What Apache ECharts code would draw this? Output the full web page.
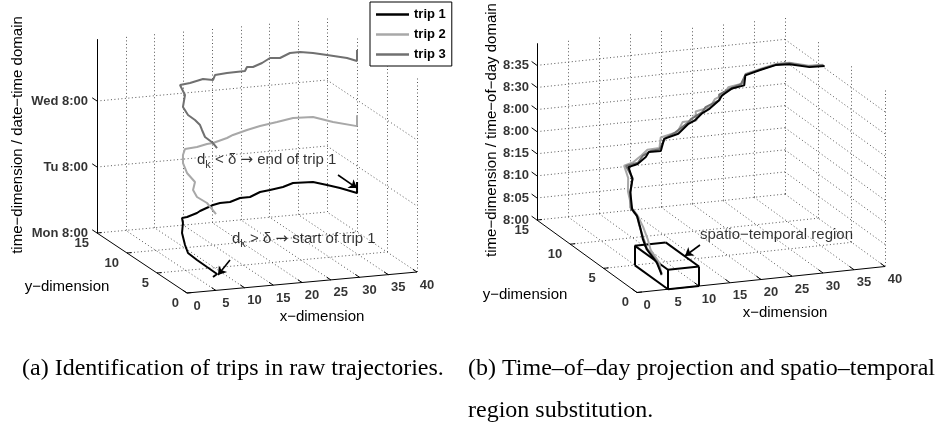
<!DOCTYPE html>
<html><head><meta charset="utf-8">
<script src="https://cdn.jsdelivr.net/npm/echarts@6/dist/echarts.min.js"></script>
<style>html,body{margin:0;padding:0;background:#fff}#c{width:938px;height:431px}</style>
</head><body><div id="c"></div>
<script>
// ---------------- data ----------------
const xTicks = [0,5,10,15,20,25,30,35,40];
const yTicks = [0,5,10,15];
const zTicksA = [0,24,48];                       // hours after Mon 8:00
const zLabelsA = ['Mon 8:00','Tu 8:00','Wed 8:00'];
const zMaxA = 70.5;
const zTicksB = [0,5,10,15,20,25,30,35];         // minutes after 8:00
const zLabelsB = ['8:00','8:05','8:10','8:15','8:00','8:00','8:30','8:35'];
const zMaxB = 40;
const tripNames = ['trip 1','trip 2','trip 3'];
const tripColors = ['#000000','#a8a8a8','#707070'];

// panel (a): raw trajectories, x, y, time (hours after Mon 8:00)
const a1X = [7.33,8.51,8.27,7.97,7.75,8.63,10.29,12.10,12.66,13.53,15.72,16.39,19.12,20.40,21.84,23.97,25.42,27.72,29.39,31.62,33.69,36.54,37.68,38.66,39.8,39.8];
const a1Y = [2.69,3.15,4.59,5.97,7.26,8.60,10.69,12.27,12.96,12.96,13.40,13.54,13.99,14.05,13.76,14.14,13.86,14.39,14.33,14.31,14.62,14.02,12.77,11.55,9.8,9.8];
const a1Z = [0.5,0.7,1.2,1.8,2.5,3.3,4.3,5.3,6.0,6.2,6.6,7.0,8.0,8.4,8.9,9.4,9.9,10.5,11.0,11.7,12.3,13.0,13.5,14.0,14.5,18.5];
const a2X = [7.10,7.81,7.28,7.96,9.78,10.18,11.23,12.56,13.80,15.72,17.56,18.46,21.24,22.53,25.38,27.72,30.73,33.53,36.31,37.72,40.0,40.0];
const a2Y = [1.97,4.15,5.31,6.62,8.04,9.76,11.43,12.71,13.56,13.40,13.50,13.35,13.69,13.93,14.32,14.39,14.45,14.46,13.80,11.81,10.0,10.0];
const a2Z = [24.5,25.2,25.8,26.3,26.8,27.5,28.5,29.3,30.0,30.6,31.2,31.6,32.4,32.9,33.6,34.5,35.3,36.2,37.0,37.8,38.5,42.5];
const a3X = [7.26,7.54,7.38,8.21,8.80,8.86,8.63,9.25,11.68,12.58,14.32,16.85,17.89,19.09,21.07,23.84,24.81,25.54,27.46,29.45,30.67,32.96,34.41,35.85,37.22,39.21,39.8,39.8];
const a3Y = [1.95,2.89,4.07,5.37,6.26,7.16,8.10,9.54,11.53,13.22,13.22,13.48,12.81,13.63,13.53,13.18,13.78,13.48,13.81,14.39,13.89,14.42,14.14,13.36,12.33,10.91,9.81,9.81];
const a3Z = [48.5,48.9,49.4,49.9,50.3,50.8,51.3,52.0,53.0,54.0,54.4,55.0,55.4,55.8,56.3,57.0,57.4,57.7,58.3,58.9,59.4,60.0,60.5,61.0,61.5,62.1,62.5,66.5];

// panel (b): time-of-day projection, x, y, time (minutes after 8:00)
const b1X = [6.70,7.32,7.17,7.28,8.12,8.38,8.19,9.53,10.66,10.73,12.00,13.84,14.56,15.86,17.80,19.92,22.45,23.21,24.72,25.99,27.82,28.54,30.31,31.75,32.58,34.27,36.24,37.51,38.75,40.0];
const b1Y = [2.53,3.84,5.19,5.88,7.10,7.77,8.34,9.86,10.59,11.25,11.07,11.55,11.76,11.17,12.48,12.33,13.15,12.95,13.29,13.25,13.58,13.79,13.92,13.44,14.04,13.50,12.92,12.00,10.15,9.05];
const b1Z = [0.3,1.5,3.0,4.5,6.0,7.5,8.5,10.5,12.5,14.5,15.2,16.0,16.8,17.5,18.5,19.5,20.5,21.3,22.3,23.3,24.5,25.3,26.5,27.5,29.0,30.5,32.0,33.0,34.2,35.5];
const b2X = [6.5,7.6,7.6,7.9,8.5,8.6,8.4,9.4,10.3,10.4,11.8,13.5,14.8,16.2,17.6,20.2,22.0,23.6,24.3,26.3,27.5,28.9,30.0,31.9,32.9,34.6,36.5,37.8,38.9,40.0];
const b2Y = [2.4,3.7,5.0,5.7,7.0,7.9,8.6,10.1,10.9,11.6,11.5,11.9,12.2,11.7,12.8,12.7,13.6,13.0,13.8,13.5,13.9,13.9,14.2,13.8,14.3,13.7,13.1,12.3,10.4,9.3];
const b2Z = [0.3,1.5,3.0,4.5,6.0,7.5,8.5,10.5,12.5,14.5,15.2,16.0,16.8,17.5,18.5,19.5,20.5,21.3,22.3,23.3,24.5,25.3,26.5,27.5,29.0,30.5,32.0,33.0,34.2,35.5];
const b3X = [6.9,7.5,7.4,7.6,8.3,8.6,8.3,9.7,10.9,10.6,12.3,13.6,15.0,16.0,18.1,19.7,22.7,23.0,25.0,25.7,28.1,28.3,30.6,31.5,32.8,34.5,36.4,37.7,38.8,40.0];
const b3Y = [2.7,4.0,5.4,6.1,7.4,8.0,8.7,10.0,10.8,11.5,11.3,11.8,11.9,11.5,12.6,12.6,13.4,13.3,13.5,13.6,13.7,14.0,14.1,13.7,14.2,13.6,13.0,12.2,10.3,9.2];
const b3Z = [0.3,1.5,3.0,4.5,6.0,7.5,8.5,10.5,12.5,14.5,15.2,16.0,16.8,17.5,18.5,19.5,20.5,21.3,22.3,23.3,24.5,25.3,26.5,27.5,29.0,30.5,32.0,33.0,34.2,35.5];

// spatio-temporal region (panel b): x range, y range, time range (min)
const regionX = [5,10];
const regionY = [0,5];
const regionZ = [0,4.4];

// ---------------- projection (oblique view of each 3-D box) ----------------
const viewA = {ox:187, oy:293, ex:[5.75,-0.525], ey:[-6,-4], ez:-2.75};
const viewB = {ox:637, oy:292.5, ex:[6.2,-0.65], ey:[-6.67,-4.83], ez:-4.42};
function proj(v,x,y,z){ return [v.ox + v.ex[0]*x + v.ey[0]*y, v.oy + v.ex[1]*x + v.ey[1]*y + v.ez*z]; }
function zip(X,Y,Z){ return X.map((x,i)=>[x,Y[i],Z[i]]); }

const FONT = 'Liberation Sans, Arial, Helvetica, sans-serif';

function panelGeometry(v, zTicks, zMax){
  const grid=[], axes=[], ticks=[];
  const P=(x,y,z)=>proj(v,x,y,z);
  const X0=xTicks[0], X1=xTicks[xTicks.length-1], Y0=yTicks[0], Y1=yTicks[yTicks.length-1];
  xTicks.slice(1).forEach(x=>{ grid.push([P(x,Y0,0),P(x,Y1,0)]); grid.push([P(x,Y1,0),P(x,Y1,zMax)]); });
  yTicks.slice(1).forEach(y=>grid.push([P(X0,y,0),P(X1,y,0)]));
  yTicks.slice(0,-1).forEach(y=>grid.push([P(X1,y,0),P(X1,y,zMax)]));
  zTicks.slice(1).forEach(z=>{ grid.push([P(X0,Y1,z),P(X1,Y1,z)]); grid.push([P(X1,Y1,z),P(X1,Y0,z)]); });
  axes.push([P(X0,Y0,0),P(X1,Y0,0)],[P(X0,Y0,0),P(X0,Y1,0)],[P(X0,Y1,0),P(X0,Y1,zMax)]);
  xTicks.forEach(x=>ticks.push([P(x,Y0,0),P(x,Y0+0.7,0)]));
  yTicks.forEach(y=>ticks.push([P(X0,y,0),P(X0+0.8,y,0)]));
  zTicks.forEach(z=>ticks.push([P(X0,Y1,z),P(X0,Y1+0.8,z)]));
  return {grid,axes,ticks};
}
function linesSeries(segs, style, zl, extra){
  return Object.assign({type:'lines', coordinateSystem:'cartesian2d', polyline:false, silent:true, z:zl,
    lineStyle:Object.assign({opacity:1, curveness:0}, style), data:segs.map(c=>({coords:c}))}, extra||{});
}
function labelSeries(items, lab){
  return {type:'scatter', symbolSize:0, silent:true, z:6,
    label:Object.assign({show:true, position:'inside', formatter:'{b}', color:'#000', fontFamily:FONT,
      textBorderWidth:0, textShadowBlur:0}, lab),
    data:items};
}
function tripSeries(v, pts, idx, zl){
  return {type:'line', name:tripNames[idx], symbol:'none', silent:true, z:zl,
    lineStyle:{color:tripColors[idx], width:2}, itemStyle:{color:tripColors[idx]},
    data:pts.map(p=>proj(v,p[0],p[1],p[2]))};
}

const series = [];
[[viewA,zTicksA,zMaxA,zLabelsA],[viewB,zTicksB,zMaxB,zLabelsB]].forEach(([v,zt,zm,zl])=>{
  const g = panelGeometry(v,zt,zm);
  series.push(linesSeries(g.grid,{color:'#555',width:1,type:[1,2.5]},1));
  series.push(linesSeries(g.axes,{color:'#000',width:1},3));
  series.push(linesSeries(g.ticks,{color:'#000',width:1},3));
  const tickFont = {fontSize:13, fontWeight:'bold'};
  series.push(labelSeries(xTicks.map(x=>({name:String(x), value:proj(v,x,yTicks[0],0)})),
    Object.assign({align:'center', verticalAlign:'middle', offset:[10,13]},tickFont)));
  series.push(labelSeries(yTicks.map(y=>({name:String(y), value:proj(v,xTicks[0],y,0)})),
    Object.assign({align:'right', verticalAlign:'middle', offset:[-8,10]},tickFont)));
  series.push(labelSeries(zt.map((z,i)=>({name:zl[i], value:proj(v,xTicks[0],yTicks[yTicks.length-1],z)})),
    Object.assign({align:'right', verticalAlign:'middle', offset:[v===viewA?-9:-8,0]},tickFont)));
});

// trajectories
series.push(tripSeries(viewA, zip(a1X,a1Y,a1Z), 0, 10));
series.push(tripSeries(viewA, zip(a2X,a2Y,a2Z), 1, 10));
series.push(tripSeries(viewA, zip(a3X,a3Y,a3Z), 2, 10));
series.push(tripSeries(viewB, zip(b2X,b2Y,b2Z), 1, 10));
series.push(tripSeries(viewB, zip(b3X,b3Y,b3Z), 2, 11));
series.push(tripSeries(viewB, zip(b1X,b1Y,b1Z), 0, 12));

// region box
(function(){
  const [x0,x1]=regionX,[y0,y1]=regionY,[z0,z1]=regionZ, P=(x,y,z)=>proj(viewB,x,y,z);
  const e=[[P(x0,y0,z1),P(x1,y0,z1)],[P(x1,y0,z1),P(x1,y1,z1)],[P(x1,y1,z1),P(x0,y1,z1)],[P(x0,y1,z1),P(x0,y0,z1)],
    [P(x0,y0,z0),P(x1,y0,z0)],[P(x0,y0,z0),P(x0,y0,z1)],[P(x1,y0,z0),P(x1,y0,z1)],
    [P(x0,y1,z0),P(x0,y1,z1)],[P(x0,y0,z0),P(x0,y1,z0)]];
  series.push(linesSeries(e,{color:'#000',width:2},9));
})();

// annotations
const arrows = [
  [proj(viewA,7.48,0,10.57), proj(viewA,5.39,0,5.52)],
  [proj(viewA,26.26,0,37.9), proj(viewA,29.57,0,32.5)],
  [proj(viewB,10.16,0,9.25), proj(viewB,7.74,0,7.12)]
];
series.push(linesSeries(arrows,{color:'#000',width:1.6},13,{symbol:['none','arrow'], symbolSize:8}));
const tokenBase = {fontFamily:FONT, color:'#000', textBorderWidth:0};
const annRich = {
  d:Object.assign({fontSize:15}, tokenBase),
  k:Object.assign({fontSize:11, padding:[10,0,0,0]}, tokenBase),
  t:Object.assign({fontSize:15}, tokenBase),
  r:Object.assign({fontSize:15}, tokenBase, {fontFamily:'DejaVu Sans, sans-serif'})
};
series.push(labelSeries([
  {name:'{d|d}{k|k}{t| > δ }{r|→}{t| start of trip 1}', value:proj(viewA,7.83,0,18.1)},
  {name:'{d|d}{k|k}{t| < δ }{r|→}{t| end of trip 1}', value:proj(viewA,1.74,0,48)},
  {name:'{t|spatio−temporal region}', value:proj(viewB,10.16,0,11.5)}
], {align:'left', verticalAlign:'middle', rich:annRich, fontSize:15}));

const txt = (x,y,text,extra)=>({type:'text', x, y, silent:true, z:20,
  style:Object.assign({text, fill:'#000', fontFamily:FONT, fontSize:15, align:'center', verticalAlign:'middle'}, extra||{})});

const option = {
  animation:false,
  backgroundColor:'#fff',
  grid:{left:0,top:0,right:0,bottom:0},
  xAxis:{type:'value', min:0, max:938, show:false},
  yAxis:{type:'value', min:0, max:431, inverse:true, show:false},
  legend:{data:tripNames, orient:'vertical', left:370, top:2, icon:'rect', itemWidth:33, itemHeight:2.5, itemGap:5,
    padding:[5,6,4,6], borderColor:'#000', borderWidth:1, backgroundColor:'#fff',
    textStyle:{fontFamily:FONT, fontWeight:'bold', fontSize:13, color:'#000', lineHeight:15}, selectedMode:false},
  graphic:[
    txt(18,135,'time−dimension / date−time domain',{}), 
    txt(67,287,'y−dimension'),
    txt(322,317,'x−dimension'),
    txt(492,130,'time−dimension / time−of−day domain'),
    txt(525,295,'y−dimension'),
    txt(785,313,'x−dimension'),
    {type:'text', x:22, y:369, silent:true, style:{text:'(a) Identification of trips in raw trajectories.', fill:'#000', fontFamily:'Liberation Serif, Times New Roman, serif', fontSize:24, align:'left', verticalAlign:'middle'}},
    {type:'text', x:468, y:369, silent:true, style:{text:'(b) Time–of–day projection and spatio–temporal', fill:'#000', fontFamily:'Liberation Serif, Times New Roman, serif', fontSize:24, align:'left', verticalAlign:'middle'}},
    {type:'text', x:468, y:411, silent:true, style:{text:'region substitution.', fill:'#000', fontFamily:'Liberation Serif, Times New Roman, serif', fontSize:24, align:'left', verticalAlign:'middle'}}
  ],
  series
};
option.graphic[0].rotation = Math.PI/2;
option.graphic[3].rotation = Math.PI/2;
const chart = echarts.init(document.getElementById('c'));
chart.setOption(option);
</script></body></html>
